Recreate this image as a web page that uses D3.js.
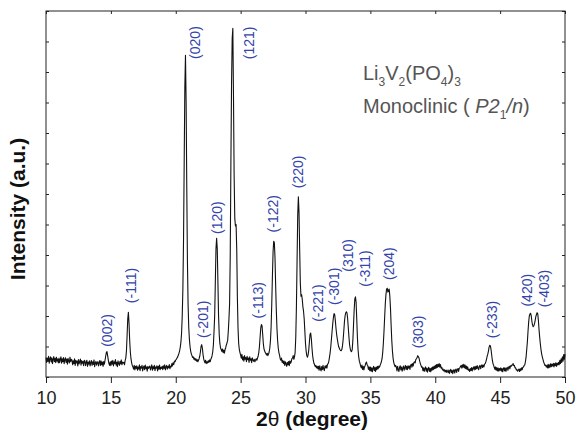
<!DOCTYPE html>
<html>
<head>
<meta charset="utf-8">
<script src="https://cdn.jsdelivr.net/npm/d3@7"></script>
<style>
  body { margin: 0; background: #fff; }
  svg { display: block; }
</style>
</head>
<body>
<script>
// XRD pattern, counts on a 0.05 degree grid, one row per degree (10..49) + 50.00
var thetaStart = 10, thetaStep = 0.05;
var countRows = [
  [64,48,62,51,68,45,60,66,49,63,44,58,67,50,61,47,65,52,59,46],
  [62,47,58,66,45,60,50,64,44,57,63,48,59,42,61,53,46,65,50,58],
  [56,40,53,44,60,38,55,46,52,36,57,43,50,59,39,54,45,51,37,55],
  [52,37,48,55,35,49,42,53,36,47,54,38,50,41,56,34,46,51,39,48],
  [50,36,47,54,38,52,40,49,35,51,42,55,68,80,83,70,56,44,38,50],
  [37,52,42,55,36,50,44,57,39,48,34,53,45,38,51,43,56,40,49,46],
  [48,40,54,62,85,135,190,212,175,120,82,60,46,38,33,26,38,23,35,28],
  [37,22,33,26,40,21,34,29,38,20,31,36,24,39,27,33,19,35,28,32],
  [36,23,31,40,22,34,27,38,21,33,29,37,20,35,26,39,24,32,28,35],
  [24,37,28,40,23,33,38,26,35,30,41,27,36,33,44,36,47,41,52,50],
  [56,58,62,66,72,78,86,98,115,145,200,290,450,700,950,1055,900,620,380,240],
  [165,125,100,85,76,70,64,66,58,62,55,60,52,57,50,55,60,68,82,100],
  [106,95,75,60,52,47,55,44,50,46,53,48,56,50,58,62,70,82,105,150],
  [200,310,420,455,420,310,200,140,110,96,90,84,92,80,88,78,90,96,105,112],
  [120,150,190,240,400,700,960,1110,1143,920,660,520,495,500,420,260,160,110,90,80],
  [72,62,74,56,66,52,70,58,64,50,68,57,62,48,66,55,60,47,63,56],
  [52,58,50,56,60,55,62,68,80,100,130,160,172,168,140,110,92,85,80,76],
  [72,78,70,75,82,95,120,165,240,330,410,445,440,390,300,220,160,120,95,80],
  [72,60,55,62,48,54,44,52,38,50,43,35,48,40,51,37,53,45,50,60],
  [62,70,58,66,80,130,230,380,530,591,540,420,310,265,270,255,230,215,190,150],
  [110,85,70,65,72,88,115,140,144,125,95,70,55,45,40,34,38,30,35,27],
  [35,22,37,26,20,34,24,38,27,21,36,30,38,29,42,44,52,65,80,100],
  [125,150,175,195,208,205,185,160,140,125,112,100,95,90,87,86,90,102,122,150],
  [180,200,210,214,210,190,160,130,105,92,85,83,90,120,170,220,255,263,245,190],
  [130,90,66,52,45,36,30,39,25,35,23,33,38,46,49,40,37,25,33,21],
  [33,19,30,17,29,35,21,31,18,33,24,35,27,36,32,38,44,50,60,80],
  [110,150,195,240,270,288,291,278,285,288,265,225,170,120,85,62,48,40,34,38],
  [33,20,35,25,18,31,37,23,33,19,29,36,22,31,38,25,35,24,37,29],
  [36,25,38,42,32,44,36,47,50,46,57,60,64,70,66,62,52,44,38,32],
  [33,21,30,18,28,33,19,29,16,27,32,18,28,17,30,22,33,24,35,27],
  [38,28,41,31,42,34,44,32,41,29,32,23,26,20,24,17,22,15,23,18],
  [14,23,12,21,25,14,22,11,21,24,13,22,26,15,24,28,18,29,30,35],
  [38,29,40,32,42,30,39,27,36,25,33,22,25,18,28,21,31,20,29,33],
  [23,34,25,36,27,37,29,24,35,38,27,36,40,31,39,33,42,44,50,58],
  [68,75,85,98,104,102,90,72,55,44,38,31,25,33,22,31,20,29,19,28],
  [22,30,19,28,17,27,31,20,29,18,28,32,22,31,35,27,37,35,39,39],
  [44,37,38,30,30,23,24,19,23,26,18,27,21,30,24,32,33,38,40,50],
  [65,90,115,150,180,200,207,209,200,182,170,165,168,175,185,198,205,211,207,185],
  [155,130,108,90,76,66,58,50,44,38,39,33,38,30,42,30,40,32,44,34],
  [42,36,45,33,44,37,47,35,45,40,48,40,55,44,60,48,66,52,74,58],
  [75]
];

var xTicks = [10, 15, 20, 25, 30, 35, 40, 45, 50];
var yTicks = [0, 100, 200, 300, 400, 500, 600, 700, 800, 900, 1000, 1100, 1200];

// Miller indices and where their labels sit (2theta of label centre, counts at label foot)
var hkl = ["(002)", "(-111)", "(020)", "(-201)", "(120)", "(121)", "(-113)", "(-122)", "(220)",
           "(-221)", "(-301)", "(310)", "(-311)", "(204)", "(303)", "(-233)", "(420)", "(-403)"];
var hklTheta = [14.70, 16.55, 21.50, 22.14, 23.17, 25.66, 26.38, 27.54, 29.46,
                30.96, 32.21, 33.31, 34.60, 36.47, 38.66, 44.36, 47.06, 48.39];
var hklCounts = [99, 242, 1043, 128, 469, 1042, 192, 474, 619,
                 181, 236, 345, 296, 318, 94, 127, 231, 229];

var pattern = [];
countRows.forEach(function(row, r) {
    row.forEach(function(c, j) {
        pattern.push([thetaStart + r + j * thetaStep, c]);
    });
});

var font = "'Liberation Sans', Arial, Helvetica, sans-serif";

var svg = d3.select("body").append("svg")
    .attr("width", 576)
    .attr("height", 435)
    .style("font-family", font);

var x = d3.scaleLinear().domain([10, 50]).range([46, 565]);
var y = d3.scaleLinear().domain([0, 1200]).range([377, 11]);

/* axes: labelled ticks only at the bottom, small inner ticks elsewhere */
var axisB = svg.append("g")
    .attr("transform", "translate(0,377)")
    .call(d3.axisBottom(x).tickValues(xTicks).tickSizeInner(6).tickSizeOuter(0).tickPadding(8));
axisB.select(".domain").remove();
axisB.selectAll("text").attr("font-size", 18).attr("fill", "#222").attr("font-family", font);

var axisT = svg.append("g")
    .attr("transform", "translate(0,11)")
    .call(d3.axisTop(x).tickValues(xTicks).tickSizeInner(-3).tickSizeOuter(0).tickFormat(""));
axisT.select(".domain").remove();

var axisL = svg.append("g")
    .attr("transform", "translate(46,0)")
    .call(d3.axisLeft(y).tickValues(yTicks).tickSizeInner(-3).tickSizeOuter(0).tickFormat(""));
axisL.select(".domain").remove();

var axisR = svg.append("g")
    .attr("transform", "translate(565,0)")
    .call(d3.axisRight(y).tickValues(yTicks).tickSizeInner(-3).tickSizeOuter(0).tickFormat(""));
axisR.select(".domain").remove();

svg.selectAll("g line").attr("stroke", "#222");

svg.append("rect")
    .attr("x", x(10)).attr("y", y(1200))
    .attr("width", x(50) - x(10)).attr("height", y(0) - y(1200))
    .attr("fill", "none").attr("stroke", "#222").attr("stroke-width", 1);

/* the pattern */
var line = d3.line()
    .x(function(d) { return x(d[0]); })
    .y(function(d) { return y(d[1]); });

svg.append("path")
    .datum(pattern)
    .attr("d", line)
    .attr("fill", "none")
    .attr("stroke", "#111")
    .attr("stroke-width", 1.1)
    .attr("stroke-linejoin", "round");

/* reflection labels, rotated */
svg.append("g").selectAll("text")
    .data(hkl)
    .enter().append("text")
    .attr("transform", function(d, i) {
        return "translate(" + x(hklTheta[i]) + "," + y(hklCounts[i]) + ") rotate(-90)";
    })
    .attr("dy", "0.35em")
    .attr("font-size", 14)
    .attr("fill", "#3344aa")
    .text(function(d) { return d; });

/* compound name */
var t1 = svg.append("text").attr("x", 363).attr("y", 80)
    .attr("font-size", 20).attr("fill", "#555").style("white-space", "pre");
t1.append("tspan").text("Li");
t1.append("tspan").attr("dy", 6).attr("font-size", 12).text("3");
t1.append("tspan").attr("dy", -6).text("V");
t1.append("tspan").attr("dy", 6).attr("font-size", 12).text("2");
t1.append("tspan").attr("dy", -6).text("(PO");
t1.append("tspan").attr("dy", 6).attr("font-size", 12).text("4");
t1.append("tspan").attr("dy", -6).text(")");
t1.append("tspan").attr("dy", 6).attr("font-size", 12).text("3");

var t2 = svg.append("text").attr("x", 363).attr("y", 113)
    .attr("font-size", 20).attr("fill", "#555").style("white-space", "pre");
t2.append("tspan").text("Monoclinic ( ");
t2.append("tspan").attr("font-style", "italic").text("P2");
t2.append("tspan").attr("dy", 6).attr("font-size", 12).text("1");
t2.append("tspan").attr("dy", -6).attr("font-style", "italic").text("/n");
t2.append("tspan").text(")");

/* axis titles */
var xt = svg.append("text").attr("x", 312).attr("y", 426)
    .attr("text-anchor", "middle").attr("font-size", 21).attr("font-weight", "bold").attr("fill", "#111");
xt.append("tspan").text("2");
xt.append("tspan").attr("font-weight", "normal").text("θ");
xt.append("tspan").text(" (degree)");

svg.append("text")
    .attr("transform", "translate(25,209) rotate(-90)")
    .attr("text-anchor", "middle")
    .attr("font-size", 21)
    .attr("font-weight", "bold")
    .attr("fill", "#111")
    .text("Intensity (a.u.)");
</script>
</body>
</html>
